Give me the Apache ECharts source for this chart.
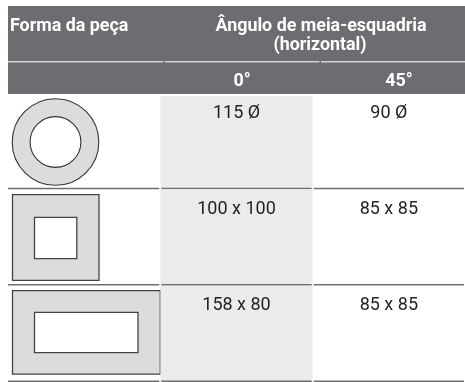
<!DOCTYPE html>
<html><head><meta charset="utf-8">
<script src="https://cdn.jsdelivr.net/npm/echarts@6/dist/echarts.min.js"></script>
<style>html,body{margin:0;padding:0;background:#fff}#c{width:465px;height:382px}</style>
</head><body><div id="c"></div>
<script>
// ---- data ----
const captionTail = 'peça';
const headerShape = 'Forma da peça';
const headerAngle = ['Ângulo de meia-esquadria', '(horizontal)'];
const angleColumns = ['0°', '45°'];
const columns = ['Forma da peça', '0°', '45°'];
const shapes = ['circle', 'square', 'rectangle'];
const values0 = ['115 Ø', '100 x 100', '158 x 80'];
const values45 = ['90 Ø', '85 x 85', '85 x 85'];

// ---- build ----
const HEAD_FONT = "Roboto,'Liberation Sans',sans-serif";
const BODY_FONT = "Roboto,'Liberation Sans',sans-serif";
const cells = [];
shapes.forEach((s, r) => {
  cells.push([0, r, s]);
  cells.push([1, r, values0[r]]);
  cells.push([2, r, values45[r]]);
});

function renderItem(params, api) {
  const c = api.value(0), r = api.value(1);
  const raw = cells[params.dataIndex][2];
  const ctr = api.coord([c, r]);
  const sz = api.size([1, 1]);
  const w = sz[0], h = sz[1];
  const x0 = ctr[0] - w / 2, y0 = ctr[1] - h / 2;
  const ch = [];
  if (c === 1) {
    const off = r === 0 ? 3 : 0;
    ch.push({type: 'rect', shape: {x: x0, y: y0 + off, width: w, height: h - off}, style: {fill: '#ebebed'}});
  }
  const sx = x0 + (c === 0 ? 0 : 1);
  ch.push({type: 'rect', shape: {x: sx, y: y0 + h - 1.6, width: x0 + w - 1 - sx, height: 1.5}, style: {fill: '#6e6e70'}});
  if (c === 0) {
    const st = {fill: '#dcdcde', stroke: '#333', lineWidth: 1.1};
    const st2 = {fill: '#fff', stroke: '#333', lineWidth: 1.1};
    if (raw === 'circle') {
      ch.push({type: 'circle', shape: {cx: x0 + 47.5, cy: y0 + 49, r: 43.3}, style: st});
      ch.push({type: 'circle', shape: {cx: x0 + 47.5, cy: y0 + 49, r: 25.4}, style: st2});
    } else if (raw === 'square') {
      ch.push({type: 'rect', shape: {x: x0 + 4.5, y: y0 + 5.2, width: 86.5, height: 85.8}, style: Object.assign({}, st, {stroke: '#444', lineWidth: 1.3})});
      ch.push({type: 'rect', shape: {x: x0 + 26.5, y: y0 + 28, width: 42.3, height: 41.2}, style: Object.assign({}, st2, {stroke: '#444', lineWidth: 1.3})});
    } else {
      ch.push({type: 'rect', shape: {x: x0 + 4.5, y: y0 + 4.9, width: 147.8, height: 83.5}, style: Object.assign({}, st, {stroke: '#444', lineWidth: 1.3})});
      ch.push({type: 'rect', shape: {x: x0 + 26.5, y: y0 + 26.8, width: 103.5, height: 40.2}, style: Object.assign({}, st2, {stroke: '#444', lineWidth: 1.3})});
    }
  } else {
    ch.push({type: 'text', style: {x: ctr[0], y: y0 + 20, text: raw, align: 'center', verticalAlign: 'middle',
      fontFamily: BODY_FONT, fontSize: 18, fill: '#231f20'}});
  }
  return {type: 'group', children: ch};
}

function headText(txt, x, y, align) {
  return {type: 'text', x: x, y: y, scaleX: 0.94,
    style: {x: 0, y: 0, text: txt, align: align, verticalAlign: 'middle', fontFamily: HEAD_FONT,
      fontWeight: 'bold', fontSize: 19, fill: '#fff'}};
}

const chart = echarts.init(document.getElementById('c'), null, {renderer: 'canvas'});
const segY = 61;
chart.setOption({
  animation: false,
  grid: {left: 8, top: 93, width: 468, height: 300},
  xAxis: {type: 'category', data: columns, show: false},
  yAxis: {type: 'category', data: shapes, inverse: true, show: false},
  series: [{type: 'custom', renderItem: renderItem, data: cells.map(d => [d[0], d[1]]), clip: false}],
  graphic: [
    {type: 'text', x: 97, y: -8.5, style: {x: 0, y: 0, text: captionTail, verticalAlign: 'middle', fontFamily: BODY_FONT, fontSize: 15, fill: '#333'}},
    {type: 'rect', shape: {x: 8, y: 6, width: 468, height: 88}, style: {fill: '#6c6d71'}},
    {type: 'rect', shape: {x: 8, y: segY, width: 155.5, height: 1.6}, style: {fill: '#d2d2d2'}},
    {type: 'rect', shape: {x: 165, y: segY, width: 154.5, height: 1.6}, style: {fill: '#d2d2d2'}},
    {type: 'rect', shape: {x: 321, y: segY, width: 155, height: 1.6}, style: {fill: '#d2d2d2'}},
    headText(headerShape, 10, 26, 'left'),
    headText(headerAngle[0], 321, 26, 'center'),
    headText(headerAngle[1], 320, 45, 'center'),
    headText(angleColumns[0], 242, 81.5, 'center'),
    headText(angleColumns[1], 399, 81.5, 'center')
  ]
});
</script>
</body></html>
